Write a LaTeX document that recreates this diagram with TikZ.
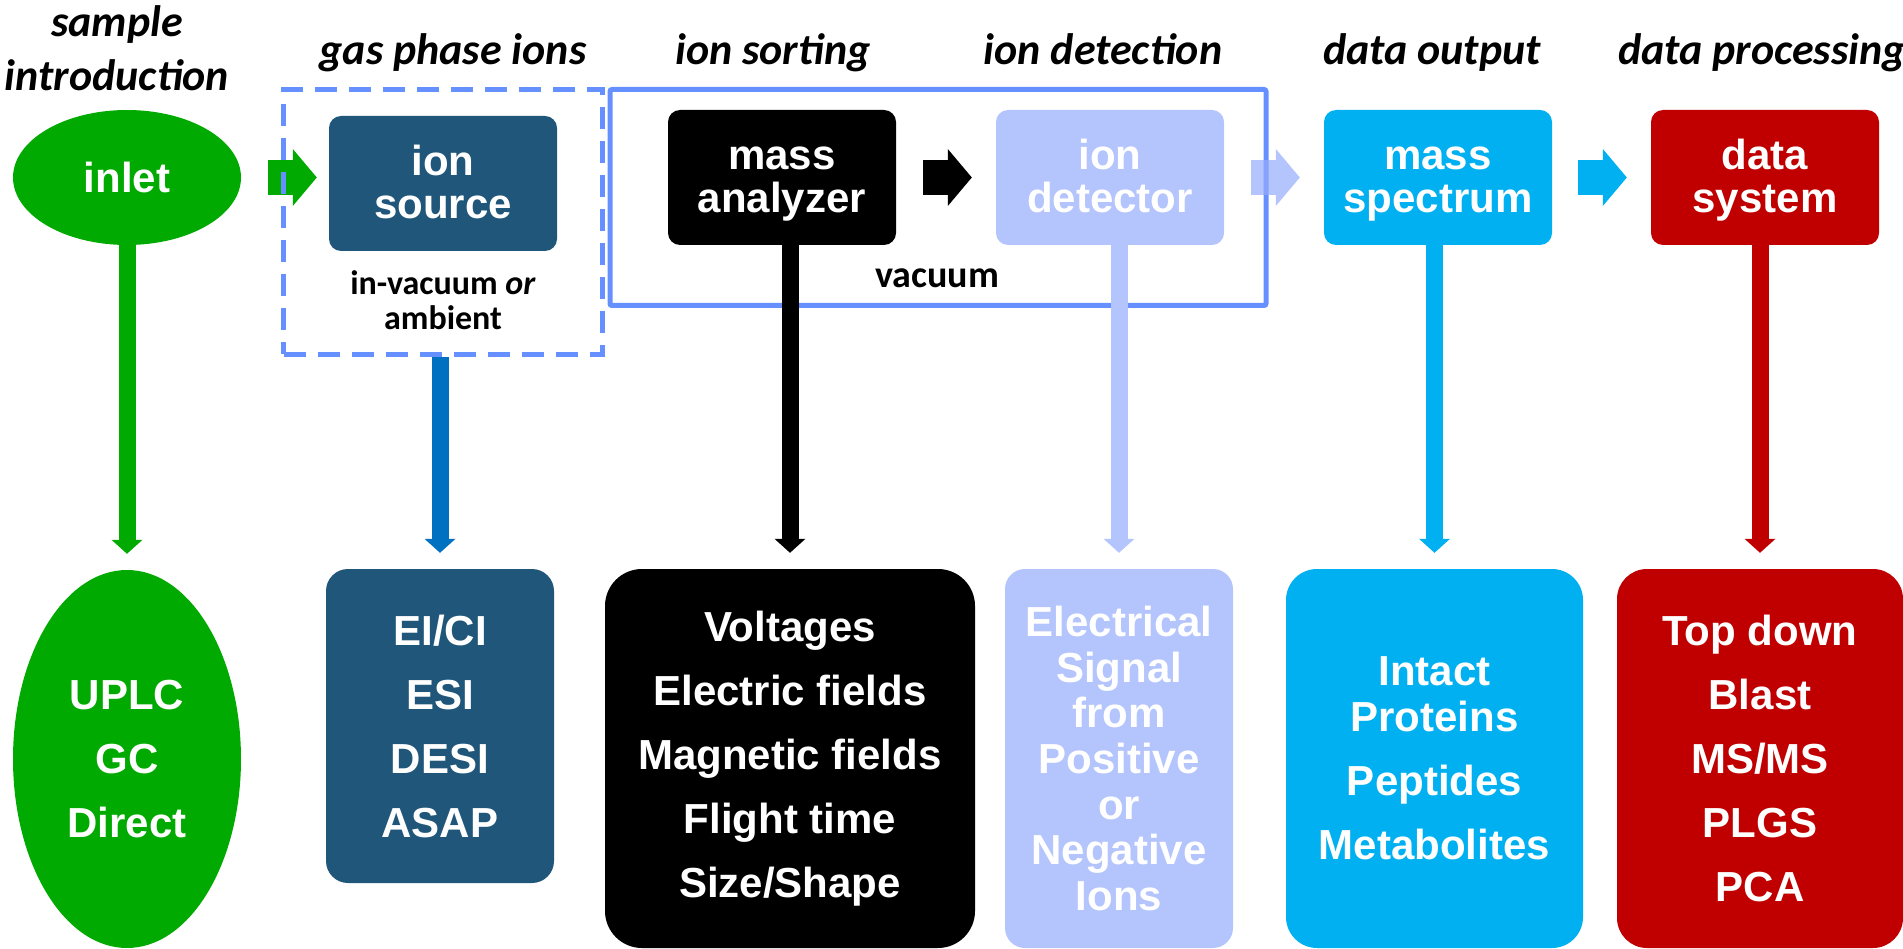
\documentclass[tikz,border=0pt]{standalone}
\usepackage{fontspec}
\setmainfont{Liberation Sans}
\newfontfamily\calibri{Carlito}
\usetikzlibrary{
  arrows.meta,
  positioning,
  shapes.geometric
}
\definecolor{msGreen}{HTML}{00AA00}
\definecolor{msNavy}{HTML}{1F5679}
\definecolor{msLilac}{HTML}{B4C4FC}
\definecolor{msLilacDeep}{HTML}{94ABFB}
\definecolor{msCyan}{HTML}{00B0F0}
\definecolor{msRed}{HTML}{C00000}
\definecolor{msFrame}{HTML}{6690FF}
\definecolor{msBlue}{HTML}{0070C0}
\tikzset{
  msBox/.style={
    rounded corners=12pt,
    minimum width=228pt,
    minimum height=135pt,
    inner sep=0pt,
    align=center,
    text=white,
    font=\bfseries\fontsize{42}{43}\selectfont,
    text height=73pt,
    text depth=2pt
  },
  msSub/.style={
    inner sep=0pt,
    align=center,
    text=white,
    minimum width=228pt,
    minimum height=379pt,
    font=\bfseries\fontsize{42}{64}\selectfont
  },
  msHead/.style={
    font=\calibri\bfseries\itshape\fontsize{44}{54}\selectfont,
    align=center,
    anchor=base,
    inner sep=0pt
  },
  msNote/.style={
    font=\calibri\bfseries\fontsize{34}{35}\selectfont,
    align=center,
    inner sep=0pt
  },
  msFrameBox/.style={draw=msFrame, line width=5pt, inner sep=0pt},
  msFlow/.style={
    line width=35pt,
    shorten <=27pt,
    shorten >=24pt,
    -{Triangle[length=24pt, width=57pt, line width=0pt]}
  },
  msStem/.style={
    line width=17pt,
    shorten >=16pt,
    -{Triangle[length=14pt, width=31pt, line width=0pt]}
  }
}

\begin{document}
\begin{tikzpicture}[x=1pt,y=-1pt]
  \useasboundingbox (0,0) rectangle (1903,949);

  % stages
  \node[msBox, ellipse, fill=msGreen, text height=31pt, text depth=0pt]
    (inlet) at (127,177.5) {inlet};
  \node[msBox, fill=msNavy] (src) at (443,183.5) {ion\\source};
  \node[msBox, fill=black] (mass) at (782,177.5) {mass\\analyzer};
  \node[msBox, fill=msLilac] (det) at (1110,177.5) {ion\\detector};
  \node[msBox, fill=msCyan] (spec) at (1438,177.5) {mass\\spectrum};
  \node[msBox, fill=msRed] (data) at (1765,177.5) {data\\system};

  \node[msNote, below=19pt of src] (srcNote) {in-vacuum \textit{or}\\ambient};
  \node[msNote, anchor=base, font=\calibri\bfseries\fontsize{38}{38}\selectfont]
    (vacNote) at (937,288) {vacuum};

  % headings
  \node[msHead] (hIntro) at (117,91) {sample\\introduction};
  \node[msHead] (hIons) at (453,65) {gas phase ions};
  \node[msHead] (hSort) at (773,65) {ion sorting};
  \node[msHead] (hDetect) at (1103,65) {ion detection};
  \node[msHead] (hOut) at (1432,65) {data output};
  \node[msHead] (hProc) at (1762,65) {data processing};

  \draw[msFlow, msGreen, shorten >=12pt] (inlet.east) -- (inlet.east -| src.west);

  % source and vacuum zones
  \node[msFrameBox, dash pattern=on 22pt off 12pt, minimum width=319pt,
    minimum height=265pt] (srcZone) at (443,222) {};
  \node[msFrameBox, rounded corners=2pt, minimum width=656pt,
    minimum height=216pt] (vacZone) at (938,197.5) {};

  \draw[msFlow, black] (mass.east) -- (det.west);
  \draw[msFlow, msLilacDeep, opacity=0.7] (det.east) -- (spec.west);
  \draw[msFlow, msCyan, shorten <=26pt] (spec.east) -- (data.west);

  % details
  \node[msSub, ellipse, fill=msGreen, minimum height=378pt]
    (inletSub) at (127,759) {UPLC\\GC\\Direct};
  \node[msSub, rounded corners=22pt, fill=msNavy, minimum height=314pt]
    (srcSub) at (440,726) {EI/CI\\ESI\\DESI\\ASAP};
  \node[msSub, rounded corners=37pt, fill=black, minimum width=370pt]
    (massSub) at (790,758.5)
    {Voltages\\Electric fields\\Magnetic fields\\Flight time\\Size/Shape};
  \node[msSub, rounded corners=20pt, fill=msLilac,
    font=\bfseries\fontsize{42}{45.7}\selectfont]
    (detSub) at (1119,758.5)
    {Electrical\\Signal\\from\\Positive\\or\\Negative\\Ions};
  \node[msSub, rounded corners=31pt, fill=msCyan, minimum width=297pt,
    font=\bfseries\fontsize{42}{46}\selectfont]
    (specSub) at (1434.5,758.5)
    {Intact\\Proteins\\[18pt]Peptides\\[18pt]Metabolites};
  \node[msSub, rounded corners=30pt, fill=msRed, minimum width=286pt]
    (dataSub) at (1760,758.5) {Top down\\Blast\\MS/MS\\PLGS\\PCA};

  \draw[msStem, msGreen] (inlet) -- (inletSub);
  \draw[msStem, msBlue] (srcSub.north |- srcZone.south) -- (srcSub.north);
  \draw[msStem, black] (massSub.north |- mass.south) -- (massSub.north);
  \draw[msStem, msLilac] (detSub.north |- det.south) -- (detSub.north);
  \draw[msStem, msCyan] (specSub.north |- spec.south) -- (specSub.north);
  \draw[msStem, msRed] (dataSub.north |- data.south) -- (dataSub.north);
\end{tikzpicture}
\end{document}
